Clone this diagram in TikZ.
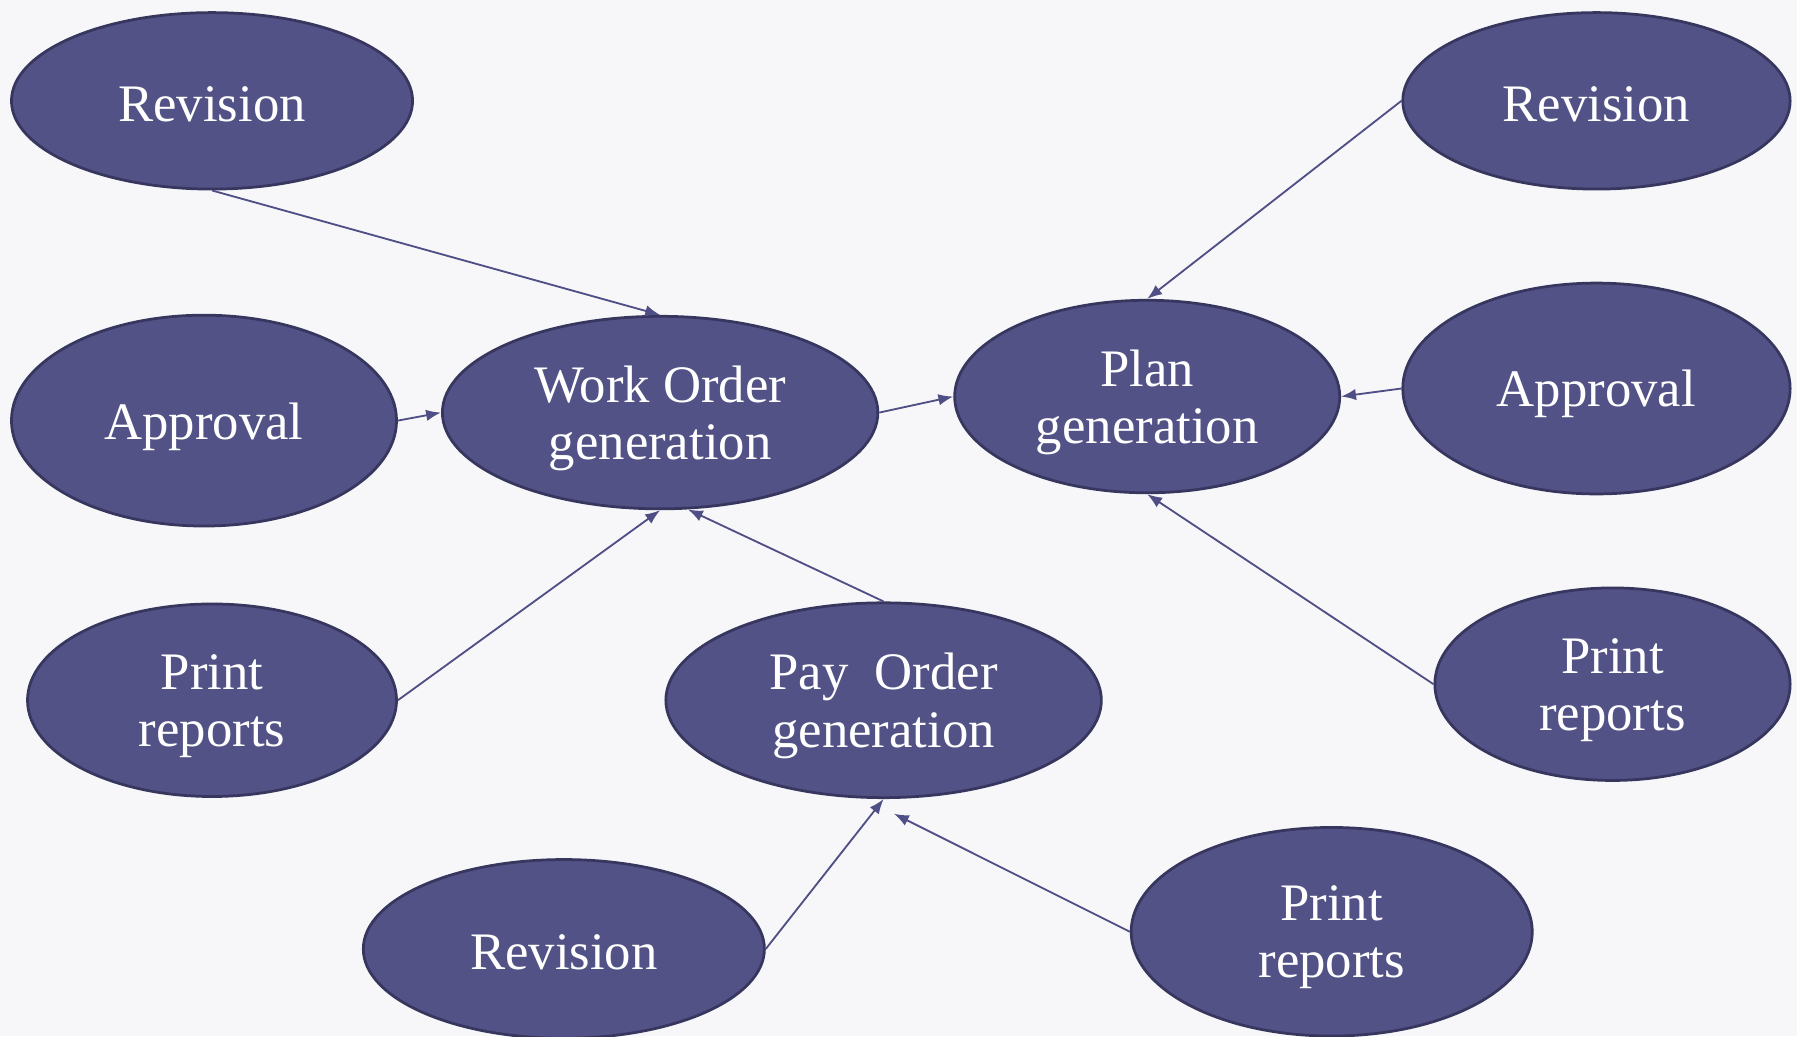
\documentclass[tikz,border=0pt]{standalone}
\usepackage{fontspec}
\setmainfont{Liberation Serif}
\usetikzlibrary{arrows.meta,shapes.geometric}
\definecolor{nodefill}{HTML}{525287}
\definecolor{nodeborder}{HTML}{36365F}
\definecolor{linec}{HTML}{4F4F86}
\definecolor{bg}{HTML}{F7F7F9}
\begin{document}
\begin{tikzpicture}[x=1pt,y=-1pt,
  bub/.style={ellipse, draw=nodeborder, line width=2.4pt, fill=nodefill, inner sep=0pt},
  lbl/.style={text=white, inner sep=0pt, align=center, font=\fontsize{46}{50}\selectfont},
  conn/.style={draw=linec, line width=1.6pt, -{Latex[length=13pt,width=10pt]}}]
\fill[bg] (0,0) rectangle (1568,904);
\useasboundingbox (0,0) rectangle (1568,904);

\node[bub, minimum width=350pt, minimum height=154pt] (rev1) at (185,88) {};
\node[bub, minimum width=336pt, minimum height=184pt] (ap1) at (178,367) {};
\node[bub, minimum width=322pt, minimum height=168pt] (pr1) at (185,611) {};
\node[bub, minimum width=380pt, minimum height=168pt] (wo) at (576,360) {};
\node[bub, minimum width=380pt, minimum height=170pt] (po) at (771,611) {};
\node[bub, minimum width=350pt, minimum height=156pt] (rev3) at (492,828) {};
\node[bub, minimum width=336pt, minimum height=168pt] (pl) at (1001,346) {};
\node[bub, minimum width=338pt, minimum height=154pt] (rev2) at (1393,88) {};
\node[bub, minimum width=338pt, minimum height=184pt] (ap2) at (1393,339) {};
\node[bub, minimum width=310pt, minimum height=168pt] (pr2) at (1407,597) {};
\node[bub, minimum width=350pt, minimum height=182pt] (pr3) at (1162,813) {};

\node[lbl] (rev1-t) at ([yshift=-3pt]rev1.center) {Revision};
\node[lbl] (ap1-t) at ([yshift=-5pt]ap1.center) {Approval};
\node[lbl] (pr1-t) at ([yshift=-5pt]pr1.center) {Print\\reports};
\node[lbl] (wo-t) at ([yshift=-5pt]wo.center) {Work Order\\generation};
\node[lbl] (po-t) at ([yshift=-5pt]po.center) {Pay~~Order\\generation};
\node[lbl] (rev3-t) at ([yshift=-3pt]rev3.center) {Revision};
\node[lbl] (pl-t) at ([yshift=-5pt]pl.center) {Plan\\generation};
\node[lbl] (rev2-t) at ([yshift=-3pt]rev2.center) {Revision};
\node[lbl] (ap2-t) at ([yshift=-5pt]ap2.center) {Approval};
\node[lbl] (pr2-t) at ([yshift=-5pt]pr2.center) {Print\\reports};
\node[lbl] (pr3-t) at ([yshift=-5pt]pr3.center) {Print\\reports};

\coordinate (pr3end) at (780,710);

\draw[conn] (rev1.south) -- (wo.north);
\draw[conn] (ap1.east) -- (wo.west);
\draw[conn] (pr1.east) -- (wo.south);
\draw[conn] (po.north) -- (wo.-74);
\draw[conn] (wo.east) -- (pl.west);
\draw[conn] (rev2.west) -- (pl.north);
\draw[conn] (ap2.west) -- (pl.east);
\draw[conn] (pr2.west) -- (pl.south);
\draw[conn] (rev3.east) -- (po.south);
\draw[conn] (pr3.west) -- (pr3end);
\end{tikzpicture}
\end{document}
